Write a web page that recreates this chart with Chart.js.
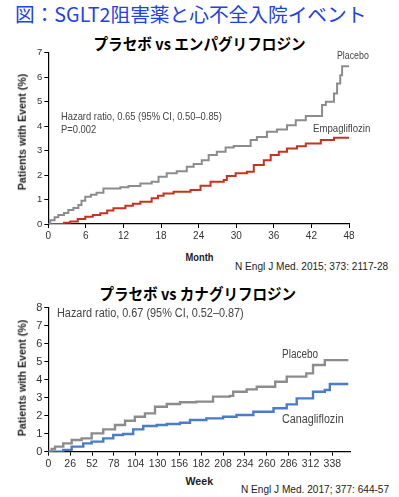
<!DOCTYPE html>
<html><head><meta charset="utf-8">
<script src="https://cdn.jsdelivr.net/npm/chart.js@4"></script>
<style>
html,body{margin:0;padding:0;background:#fff;}
#wrap{position:relative;width:399px;height:497px;overflow:hidden;background:#fff;}
canvas{position:absolute;left:0;}
.t{position:absolute;white-space:nowrap;line-height:1;}
.nar{font-family:'Liberation Sans',Arial,sans-serif;color:#444;}
</style></head><body>
<div id="wrap">
<div id="title" style="position:absolute;left:15px;top:2px;white-space:nowrap;font:19.7px/24px 'Noto Sans CJK JP';color:#2040f0;">図：SGLT2阻害薬と心不全入院イベント</div>
<div class="t" data-cx="199" data-cy="43" data-w="212" style="font:bold 15.5px 'Noto Sans CJK JP';color:#000;">プラセボ vs エンパグリフロジン</div>
<canvas id="c1" width="399" height="210" style="top:40px;width:399px;height:210px"></canvas>
<div class="t" data-cx="22" data-cy="132" data-h="117" data-rot="1" style="font:bold 10.5px 'Liberation Sans',sans-serif;color:#222;">Patients with Event (%)</div>
<div class="t nar" data-x="61" data-cy="116" data-w="161" style="font-size:11px;">Hazard ratio, 0.65 (95% CI, 0.50–0.85)</div>
<div class="t nar" data-x="61" data-cy="129" data-w="35" style="font-size:11px;">P=0.002</div>
<div class="t nar" data-x="337" data-cy="55" data-w="32" style="font-size:11px;">Placebo</div>
<div class="t nar" data-x="313" data-cy="128" data-w="57" style="font-size:11px;">Empagliflozin</div>
<div class="t" data-cx="199" data-cy="257" data-w="28" style="font:bold 11px 'Liberation Sans',sans-serif;color:#222;">Month</div>
<div class="t" data-x="235" data-cy="266" data-w="153" style="font:10.5px 'Liberation Sans',sans-serif;color:#222;">N Engl J Med. 2015; 373: 2117-28</div>

<div class="t" data-cx="198" data-cy="293" data-w="197" style="font:bold 15.5px 'Noto Sans CJK JP';color:#000;">プラセボ vs カナグリフロジン</div>
<canvas id="c2" width="399" height="175" style="top:298px;width:399px;height:175px"></canvas>
<div class="t" data-cx="22" data-cy="378" data-h="117" data-rot="1" style="font:bold 10.5px 'Liberation Sans',sans-serif;color:#222;">Patients with Event (%)</div>
<div class="t nar" data-x="57" data-cy="313" data-w="187" style="font-size:12.5px;">Hazard ratio, 0.67 (95% CI, 0.52–0.87)</div>
<div class="t nar" data-x="282" data-cy="354" data-w="36" style="font-size:12.5px;">Placebo</div>
<div class="t nar" data-x="282" data-cy="419" data-w="62" style="font-size:12.5px;">Canagliflozin</div>
<div class="t" data-cx="199" data-cy="481" data-w="28" style="font:bold 11px 'Liberation Sans',sans-serif;color:#222;">Week</div>
<div class="t" data-x="241" data-cy="489" data-w="148" style="font:10.5px 'Liberation Sans',sans-serif;color:#222;">N Engl J Med. 2017; 377: 644-57</div>
</div>
<script>
// ---- Data: Empagliflozin trial (months, % with event) ----
const empaMonthTicks = [0,6,12,18,24,30,36,42,48];
const empaYTicks = [0,1,2,3,4,5,6,7];
const empaPlaceboX = [0,0.3,1.0,1.6,2.5,3.2,4.0,4.8,5.3,5.9,6.8,7.7,8.8,11.5,12.8,14.7,16.5,17.6,18.9,20.5,22.1,23.2,24.5,25.6,26.9,28.3,29.6,32.3,33.3,34.9,36.5,38.1,39.5,41.1,43.7,44.3,45.6,46.1,46.6,46.9,48];
const empaPlaceboY = [0,0.15,0.28,0.37,0.45,0.57,0.65,0.78,0.95,1.11,1.2,1.28,1.45,1.5,1.55,1.66,1.73,1.93,2.07,2.16,2.34,2.45,2.61,2.82,2.95,3.13,3.19,3.43,3.56,3.77,3.86,4.04,4.24,4.41,4.86,5.0,5.33,5.74,6.08,6.45,6.45];
const empaDrugX = [0,1.6,2.5,3.5,4.7,5.9,7.1,8.3,9.4,10.4,12.3,13.5,14.7,16.5,17.5,18.4,20,22.7,24.3,25.9,28,28.5,29.9,31.7,32.8,34.4,35.5,36.8,38.1,39.7,41.1,43.5,45.6,48];
const empaDrugY = [0,0,0.05,0.1,0.2,0.3,0.37,0.44,0.55,0.64,0.75,0.83,0.91,1.05,1.15,1.25,1.32,1.39,1.56,1.73,1.8,1.96,2.07,2.14,2.41,2.61,2.82,2.95,3.09,3.18,3.29,3.43,3.52,3.52];

// ---- Data: Canagliflozin trial (weeks, % with event) ----
const canaWeekTicks = [0,26,52,78,104,130,156,182,208,234,260,286,312,338];
const canaYTicks = [0,1,2,3,4,5,6,7,8];
const canaPlaceboX = [0,4,8,17.8,27.8,39.7,51.6,65.4,79.4,91.3,103,115,127,141,156.7,176,196,216,220,236,248,270,283.7,307,315,329,357];
const canaPlaceboY = [0,0.15,0.28,0.46,0.65,0.74,1.02,1.24,1.48,1.72,1.94,2.13,2.5,2.65,2.75,2.78,3.06,3.1,3.33,3.46,3.61,3.89,4.17,4.35,4.82,5.09,5.09];
const canaDrugX = [0,10,17.8,27.8,41.6,51.6,65.4,77.3,89,101,113,129,141,156.7,168.6,188,208,224,244,268,283.7,295.6,315,329,335,357];
const canaDrugY = [0,0,0.1,0.28,0.46,0.56,0.74,0.93,0.98,1.24,1.43,1.48,1.54,1.61,1.76,1.85,1.94,2.04,2.22,2.41,2.63,2.96,3.33,3.43,3.76,3.76];

const pts = (xs, ys) => xs.map((x,i)=>({x, y: ys[i]}));
const tickFont = "'Liberation Sans',Arial,sans-serif";

function makeChart(id, cfg){
  return new Chart(document.getElementById(id), {
    type: 'line',
    data: { datasets: [
      { data: pts(cfg.px, cfg.py), borderColor: '#8c8c8c', borderWidth: cfg.lw, stepped: true, pointRadius: 0, fill: false },
      { data: pts(cfg.dx, cfg.dy), borderColor: cfg.color, borderWidth: cfg.lw, stepped: true, pointRadius: 0, fill: false }
    ]},
    options: {
      responsive: false, animation: false,
      plugins: { legend: {display:false}, tooltip: {enabled:false} },
      layout: { padding: { top: cfg.padTop, right: cfg.padRight, left: 0, bottom: 0 } },
      scales: {
        x: {
          type: 'linear', min: 0, max: cfg.xmax,
          afterBuildTicks: s => { s.ticks = cfg.xticks.map(v=>({value:v})); },
          afterFit: s => { s.height = cfg.xh; },
          border: { display: true, color: '#000', width: 1.2 },
          grid: { drawOnChartArea: false, drawTicks: true, tickLength: 4, color: '#000', lineWidth: 1 },
          ticks: { color: '#333', font: { family: tickFont, size: cfg.fs }, padding: 2, maxRotation: 0, autoSkip: false }
        },
        y: {
          type: 'linear', min: 0, max: cfg.ymax,
          afterBuildTicks: s => { s.ticks = cfg.yticks.map(v=>({value:v})); },
          afterFit: s => { s.width = 48.3; },
          border: { display: true, color: '#000', width: 1.2 },
          grid: { drawOnChartArea: false, drawTicks: true, tickLength: 4, color: '#000', lineWidth: 1 },
          ticks: { color: '#333', font: { family: tickFont, size: cfg.fsy }, padding: 2, autoSkip: false }
        }
      }
    }
  });
}

makeChart('c1', { px: empaPlaceboX, py: empaPlaceboY, dx: empaDrugX, dy: empaDrugY, color: '#c8321e', lw: 2,
  xmax: 48, ymax: 7, xticks: empaMonthTicks, yticks: empaYTicks, padTop: 12.7, padRight: 50, xh: 26, fs: 10, fsy: 9.5 });
makeChart('c2', { px: canaPlaceboX, py: canaPlaceboY, dx: canaDrugX, dy: canaDrugY, color: '#4a7cc8', lw: 2.4,
  xmax: 359, ymax: 8, xticks: canaWeekTicks, yticks: canaYTicks, padTop: 9.7, padRight: 49, xh: 21.3, fs: 10.5, fsy: 11 });

// place text labels (fit widths to reference)
function place(){
  document.querySelectorAll('.t').forEach(el => {
    const w = el.offsetWidth, h = el.offsetHeight;
    const rot = el.dataset.rot;
    const target = parseFloat(el.dataset.w || el.dataset.h || w);
    const sx = target / w;
    const cy = parseFloat(el.dataset.cy);
    if (rot) {
      const cx = parseFloat(el.dataset.cx);
      el.style.left = (cx - w/2) + 'px';
      el.style.top = (cy - h/2) + 'px';
      el.style.transform = 'rotate(-90deg) scaleX(' + sx + ')';
    } else if (el.dataset.cx) {
      const cx = parseFloat(el.dataset.cx);
      el.style.left = (cx - w/2) + 'px';
      el.style.top = (cy - h/2) + 'px';
      el.style.transform = 'scaleX(' + sx + ')';
    } else {
      el.style.left = el.dataset.x + 'px';
      el.style.top = (cy - h/2) + 'px';
      el.style.transformOrigin = '0 50%';
      el.style.transform = 'scaleX(' + sx + ')';
    }
  });
}
place();
if (document.fonts) {
  document.fonts.ready.then(place);
}
window.addEventListener('load', place);
</script>
</body></html>
